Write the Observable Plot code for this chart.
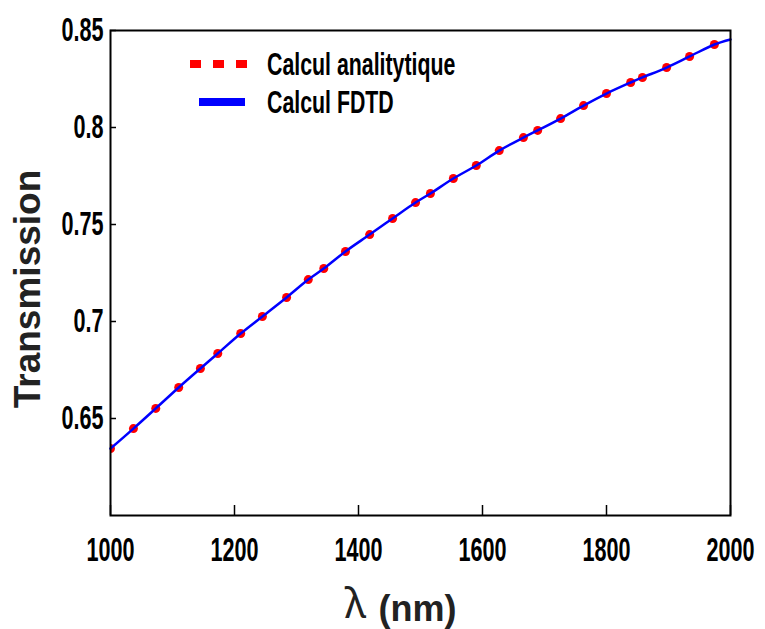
<!DOCTYPE html>
<html><head><meta charset="utf-8">
<script src="https://cdn.jsdelivr.net/npm/d3@7"></script>
<script src="https://cdn.jsdelivr.net/npm/@observablehq/plot@0.6"></script>
<style>body{margin:0;background:#fff} #chart{width:765px;height:629px}</style>
</head><body><div id="chart"></div>
<script>
// Wavelengths (nm) of the analytic samples (red dotted line)
const analyticWavelength = [1000,1037,1073,1110,1145,1173,1210,1245,1284,1319,1344,1379,1418,1455,1492,1516,1553,1590,1627,1666,1689,1726,1763,1800,1839,1858,1897,1934,1974];
const analyticTransmission = [0.6345,0.6448,0.6552,0.6660,0.6758,0.6835,0.6938,0.7026,0.7124,0.7216,0.7273,0.7361,0.7448,0.7531,0.7613,0.7660,0.7737,0.7804,0.7881,0.7948,0.7985,0.8046,0.8113,0.8175,0.8232,0.8258,0.8309,0.8366,0.8428];
// FDTD curve (blue solid line)
const fdtdWavelength = [1000,1037,1073,1110,1145,1173,1210,1245,1284,1319,1344,1379,1418,1455,1492,1516,1553,1590,1627,1666,1689,1726,1763,1800,1839,1858,1897,1934,1974,2000];
const fdtdTransmission = [0.6345,0.6448,0.6552,0.6660,0.6758,0.6835,0.6938,0.7026,0.7124,0.7216,0.7273,0.7361,0.7448,0.7531,0.7613,0.7660,0.7737,0.7804,0.7881,0.7948,0.7985,0.8046,0.8113,0.8175,0.8232,0.8258,0.8309,0.8366,0.8428,0.8454];
const xTicks = [1000,1200,1400,1600,1800,2000];
const yTicks = [0.65,0.7,0.75,0.8,0.85];
const legendLabels = ["Calcul analitytique","Calcul FDTD"];
const xLabelSymbol = "λ";
const xLabelUnit = "(nm)";
const yLabel = "Transmission";

const analytic = analyticWavelength.map((x,i)=>({x, y: analyticTransmission[i]}));
const fdtd = fdtdWavelength.map((x,i)=>({x, y: fdtdTransmission[i]}));

const sans = "'Liberation Sans',Arial,sans-serif";

const chart = Plot.plot({
  width: 765, height: 629,
  marginLeft: 110, marginRight: 35, marginTop: 30, marginBottom: 114,
  style: {background: "#fff", fontFamily: sans, color: "#000"},
  x: {domain: [1000, 2000]},
  y: {domain: [0.6, 0.85]},
  marks: [
    Plot.axisX({ticks: xTicks, tickSize: -10, tickFormat: () => "", label: null, strokeWidth: 1.5}),
    Plot.axisX({ticks: xTicks, tickSize: 0, tickPadding: 22, tickFormat: d => String(d), label: null, fontSize: 27, fontWeight: "bold"}),
    Plot.axisY({ticks: yTicks, tickSize: -6, tickFormat: () => "", label: null, strokeWidth: 1.5}),
    Plot.axisY({ticks: yTicks, tickSize: 0, tickPadding: 7, tickFormat: d => String(d), label: null, fontSize: 27, fontWeight: "bold"}),
    Plot.dot(analytic, {x: "x", y: "y", r: 4.5, fill: "#ff0000", stroke: "none", clip: true}),
    Plot.line(fdtd, {x: "x", y: "y", stroke: "#0000ff", strokeWidth: 2.5, curve: "catmull-rom"}),
    Plot.frame({stroke: "#000", strokeWidth: 2}),
    Plot.text([yLabel], {frameAnchor: "left", textAnchor: "middle", lineAnchor: "middle", rotate: -90, dx: -82, dy: 16, fontSize: 37, fontWeight: "bold", fontFamily: sans, fill: "#222"}),
    Plot.text([xLabelSymbol], {frameAnchor: "bottom", textAnchor: "middle", lineAnchor: "middle", dx: -65, dy: 89, fontSize: 41, fontFamily: "'Noto Sans','DejaVu Sans',sans-serif", fill: "#222", ariaLabel: "lambda"}),
    Plot.text([xLabelUnit], {frameAnchor: "bottom", textAnchor: "middle", lineAnchor: "middle", dx: -3, dy: 94, fontSize: 36, fontWeight: "bold", fontFamily: sans, fill: "#222"})
  ]
});

const svg = d3.select(chart);
// condensed, tall tick labels
svg.selectAll('g[aria-label="x-axis tick label"] text, g[aria-label="y-axis tick label"] text').each(function(){
  const t = d3.select(this);
  const tr = t.attr("transform") || "";
  t.attr("transform", tr + " scale(0.8,1.25)");
});
// wide lambda
svg.selectAll('g[aria-label="lambda"] text').each(function(){
  const t = d3.select(this);
  const tr = t.attr("transform") || "";
  t.attr("transform", tr + " scale(1.4,1)");
});

// legend
const lg = svg.append("g").attr("aria-label", "legend");
lg.append("line").attr("x1", 190).attr("x2", 249).attr("y1", 64).attr("y2", 64)
  .attr("stroke", "#ff0000").attr("stroke-width", 8).attr("stroke-dasharray", "11 12");
lg.append("line").attr("x1", 199).attr("x2", 245).attr("y1", 102).attr("y2", 102)
  .attr("stroke", "#0000ff").attr("stroke-width", 8);
legendLabels.forEach((s, i) => {
  lg.append("text").attr("transform", `translate(267,${64 + 38*i}) scale(0.82,1.2)`)
    .attr("dy", "0.35em").attr("text-anchor", "start").attr("font-family", sans).attr("font-weight", "bold")
    .attr("font-size", 26).attr("fill", "#000").text(s);
});

document.getElementById("chart").append(chart);
</script>
</body></html>
